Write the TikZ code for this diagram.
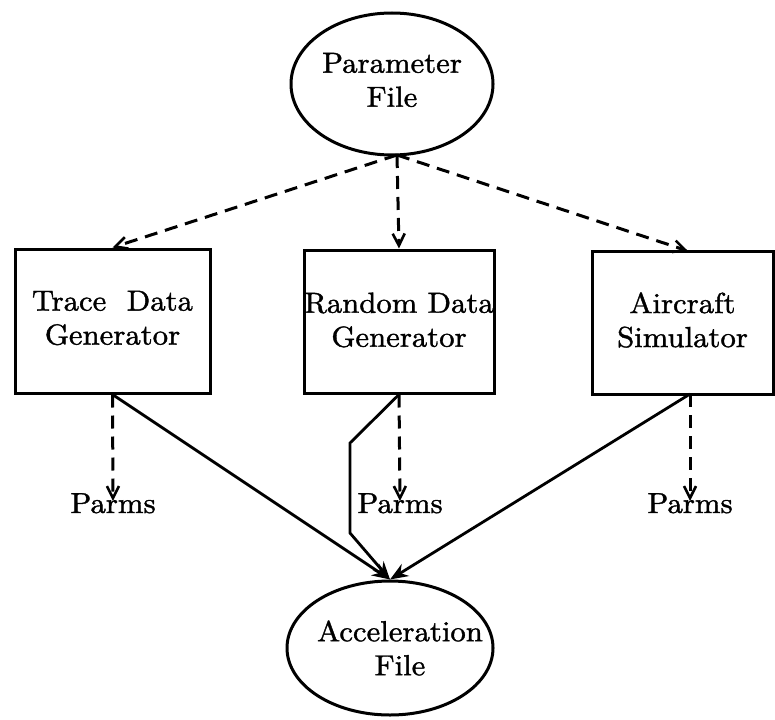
\documentclass[tikz,border=0pt]{standalone}
\usepackage{fontspec}
\setmainfont{lmroman10-regular.otf}[FakeStretch=1.06, FakeBold=1.3]
\usetikzlibrary{shapes.geometric,arrows.meta}
\begin{document}
\begin{tikzpicture}[x=1pt,y=-1pt,
  every node/.style={font=\fontsize{29}{34}\selectfont, align=center},
  oval/.style={draw, ellipse, line width=3pt, inner sep=0pt},
  boxnode/.style={draw, rectangle, line width=3pt, inner sep=0pt},
  dasharrow/.style={line width=3pt, dash pattern=on 13pt off 8pt, -{Straight Barb[length=12pt,width=12pt,line width=2.6pt]}},
  solidarrow/.style={line width=2.8pt, -{Stealth[length=18pt,width=14pt]}},
  lbl/.style={inner sep=0pt}]
\useasboundingbox (0,0) rectangle (775,719);

\node[oval, minimum width=202pt, minimum height=142pt] (pf) at (392,84) {};
\node[lbl] at (392,80) {Parameter\\File};
\node[oval, minimum width=206pt, minimum height=134pt] (af) at (390,648) {};
\node[lbl] at (400,648) {Acceleration\\File};

\node[boxnode, minimum width=195pt, minimum height=144pt] (tr) at (112.5,321) {};
\node[lbl] at (112.5,318) {Trace\ \ Data\\Generator};
\node[boxnode, minimum width=190pt, minimum height=143pt] (rd) at (399,321.5) {};
\node[lbl] at (399,320) {Random\ Data\\Generator};
\node[boxnode, minimum width=181pt, minimum height=143pt] (ac) at (682.5,322.5) {};
\node[lbl] at (682.5,320) {Aircraft\\Simulator};

\node[lbl, anchor=base] (p1) at (113,513) {Parms};
\node[lbl, anchor=base] (p2) at (400,513) {Parms};
\node[lbl, anchor=base] (p3) at (690,513) {Parms};

\coordinate (pfs) at (397,155);
\coordinate (acn) at (688,251);
\coordinate (acs) at (690,394);
\coordinate (k1) at (350,443);
\coordinate (k2) at (350,533);

\draw[dasharrow] (pfs) -- (tr.north);
\draw[dasharrow] (pfs) -- (rd.north);
\draw[dasharrow] (pfs) -- (acn);

\draw[dasharrow] (tr.south) -- ([yshift=-8pt]p1.north);
\draw[dasharrow] (rd.south) -- ([yshift=-8pt]p2.north);
\draw[dasharrow] (acs) -- ([yshift=-8pt]p3.north);

\draw[solidarrow] (tr.south) -- (af.north);
\draw[solidarrow] (rd.south) -- (k1) -- (k2) -- (af.north);
\draw[solidarrow] (acs) -- (af.north);
\end{tikzpicture}
\end{document}
